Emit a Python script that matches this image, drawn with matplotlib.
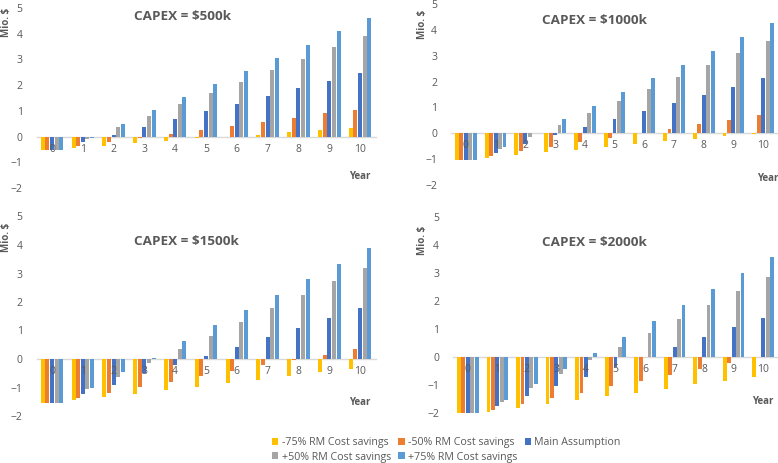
import matplotlib
matplotlib.use("Agg")
import matplotlib.pyplot as plt
import numpy as np

years = list(range(11))
series_names = ["-75% RM Cost savings", "-50% RM Cost savings", "Main Assumption",
                "+50% RM Cost savings", "+75% RM Cost savings"]
colors = ["#FFC000", "#ED7D31", "#4472C4", "#A5A5A5", "#5B9BD5"]
capex_titles = ["CAPEX = $500k", "CAPEX = $1000k", "CAPEX = $1500k", "CAPEX = $2000k"]

# CAPEX 500k
c500_m75 = [-0.53, -0.43, -0.35, -0.25, -0.18, -0.07, 0.00, 0.08, 0.16, 0.25, 0.33]
c500_m50 = [-0.53, -0.38, -0.22, -0.05, 0.10, 0.26, 0.42, 0.57, 0.74, 0.90, 1.05]
c500_main = [-0.53, -0.22, 0.07, 0.38, 0.67, 0.98, 1.27, 1.57, 1.87, 2.17, 2.47]
c500_p50 = [-0.53, -0.10, 0.36, 0.81, 1.25, 1.68, 2.12, 2.57, 3.02, 3.47, 3.92]
c500_p75 = [-0.53, -0.05, 0.50, 1.02, 1.52, 2.04, 2.55, 3.07, 3.57, 4.10, 4.62]

# CAPEX 1000k
c1000_m75 = [-1.05, -0.95, -0.85, -0.72, -0.63, -0.52, -0.42, -0.30, -0.22, -0.12, -0.02]
c1000_m50 = [-1.05, -0.88, -0.70, -0.52, -0.35, -0.18, 0.00, 0.17, 0.35, 0.53, 0.70]
c1000_main = [-1.05, -0.75, -0.42, -0.08, 0.23, 0.54, 0.85, 1.16, 1.50, 1.80, 2.12]
c1000_p50 = [-1.05, -0.60, -0.13, 0.32, 0.78, 1.24, 1.70, 2.17, 2.63, 3.10, 3.55]
c1000_p75 = [-1.05, -0.52, 0.00, 0.55, 1.07, 1.60, 2.13, 2.66, 3.20, 3.73, 4.25]

# CAPEX 1500k
c1500_m75 = [-1.56, -1.44, -1.32, -1.22, -1.08, -0.97, -0.85, -0.72, -0.60, -0.47, -0.35]
c1500_m50 = [-1.56, -1.37, -1.18, -0.98, -0.80, -0.60, -0.42, -0.22, -0.02, 0.15, 0.35]
c1500_main = [-1.56, -1.22, -0.90, -0.50, -0.22, 0.10, 0.43, 0.77, 1.10, 1.45, 1.78]
c1500_p50 = [-1.56, -1.07, -0.62, -0.13, 0.35, 0.82, 1.30, 1.78, 2.25, 2.72, 3.20]
c1500_p75 = [-1.56, -1.01, -0.47, 0.05, 0.62, 1.18, 1.72, 2.25, 2.80, 3.35, 3.90]

# CAPEX 2000k
c2000_m75 = [-2.02, -1.97, -1.82, -1.68, -1.55, -1.40, -1.28, -1.13, -0.98, -0.85, -0.72]
c2000_m50 = [-2.02, -1.90, -1.68, -1.47, -1.27, -1.05, -0.85, -0.65, -0.42, -0.22, -0.02]
c2000_main = [-2.02, -1.75, -1.40, -1.05, -0.70, -0.35, -0.02, 0.36, 0.72, 1.05, 1.40]
c2000_p50 = [-2.02, -1.60, -1.10, -0.62, -0.12, 0.37, 0.85, 1.35, 1.85, 2.35, 2.85]
c2000_p75 = [-2.02, -1.53, -0.97, -0.42, 0.15, 0.72, 1.28, 1.85, 2.42, 3.00, 3.55]

panels = [
    [c500_m75, c500_m50, c500_main, c500_p50, c500_p75],
    [c1000_m75, c1000_m50, c1000_main, c1000_p50, c1000_p75],
    [c1500_m75, c1500_m50, c1500_main, c1500_p50, c1500_p75],
    [c2000_m75, c2000_m50, c2000_main, c2000_p50, c2000_p75],
]

plt.rcParams['font.family'] = ['Open Sans', 'DejaVu Sans']
W, H = 778, 463
fig = plt.figure(figsize=(W / 100, H / 100), dpi=100)
renderer = fig.canvas.get_renderer()


def fit_size(text, target_px, base=8.0, weight="normal"):
    t = fig.text(0, 0, text, fontsize=base, fontweight=weight)
    w = t.get_window_extent(renderer).width
    t.remove()
    return base * target_px / w


legend_fs = fit_size("-75% RM Cost savings", 107)
title_fs = fit_size("CAPEX = $500k", 97, weight="bold")

# pixel boxes: (left, right, y_at_5, y_at_-2)
boxes = [(36.6, 375.5, 8, 188), (451, 778, 4, 185), (36.6, 375.5, 216.5, 416), (453, 778, 216.6, 413)]
title_pos = [(183, 16), (594, 20), (186, 242), (594, 243)]
ylab_pos = [(7, 22), (422, 24), (7, 237), (422, 240)]
year_pos = [(10.0, -1.55), (10.15, -1.74), (10.0, -1.54), (9.97, -1.60)]

txt = "#595959"
slot = 0.15
bw = 0.13
for i, (vals, box) in enumerate(zip(panels, boxes)):
    l, r, yt, yb = box
    ax = fig.add_axes([l / W, 1 - yb / H, (r - l) / W, (yb - yt) / H])
    x = np.array(years, dtype=float)
    for k, (v, c) in enumerate(zip(vals, colors)):
        ax.bar(x + (k - 2) * slot, v, width=bw, color=c, label=series_names[k], zorder=1)
    ax.set_xlim(-0.5, 10.5)
    ax.set_ylim(-2, 5)
    for s in ["top", "right", "left"]:
        ax.spines[s].set_visible(False)
    ax.spines["bottom"].set_position(("data", 0))
    ax.spines["bottom"].set_color("#D9D9D9")
    ax.spines["bottom"].set_linewidth(1.0)
    ax.spines["bottom"].set_zorder(0.5)
    ax.set_xticks(years)
    ax.set_xticklabels([str(y) for y in years])
    ax.set_yticks(range(-2, 6))
    ax.tick_params(axis="both", length=0, labelsize=7.5, labelcolor=txt)
    ax.tick_params(axis="x", pad=5)
    ax.tick_params(axis="y", pad=10)
    for t in ax.get_xticklabels():
        t.set_zorder(5)
    ax.patch.set_alpha(0)
    ax.text(year_pos[i][0], year_pos[i][1], "Year", ha="center", va="center",
            fontsize=7, fontweight="bold", color=txt)
    tx, ty = title_pos[i]
    fig.text(tx / W, 1 - ty / H, capex_titles[i], ha="center", va="center",
             fontsize=title_fs, fontweight="bold", color=txt)
    lx, ly = ylab_pos[i]
    fig.text(lx / W, 1 - ly / H, "Mio. $", ha="center", va="center", rotation=90,
             fontsize=7, fontweight="bold", color=txt)
    if i == 0:
        handles, labels = ax.get_legend_handles_labels()

order = [0, 3, 1, 4, 2]
leg = fig.legend([handles[j] for j in order], [labels[j] for j in order],
                 loc="center left", bbox_to_anchor=(272 / W, 1 - 450 / H), ncol=3,
                 frameon=False, fontsize=legend_fs, handlelength=0.6, handleheight=0.6,
                 handletextpad=0.3, columnspacing=0.7, labelspacing=0.3, borderpad=0,
                 borderaxespad=0)
for t in leg.get_texts():
    t.set_color(txt)

fig.savefig("out.png", dpi=100)
